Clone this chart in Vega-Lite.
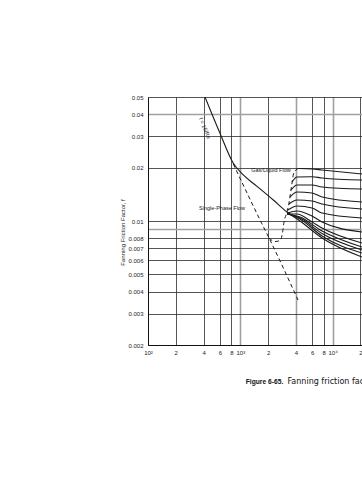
{
  "$schema": "https://vega.github.io/schema/vega-lite/v6.json",
  "width": 214,
  "height": 248,
  "autosize": {"type": "none"},
  "padding": {"left": 148, "top": 97, "right": 0, "bottom": 135},
  "background": "white",
  "config": {
    "view": {"stroke": null},
    "font": "Liberation Sans Narrow, Liberation Sans, sans-serif"
  },
  "title": {
    "text": "Figure 6-65.",
    "orient": "bottom",
    "anchor": "start",
    "frame": "group",
    "font": "Liberation Sans, sans-serif",
    "fontWeight": "bold",
    "fontSize": 6.7,
    "color": "#111",
    "dx": 97.7,
    "offset": -6
  },
  "datasets": {
    "curves": [
      {"series": "Single-phase", "Re": 414.5, "f": 0.05},
      {"series": "Single-phase", "Re": 602.7, "f": 0.03122},
      {"series": "Single-phase", "Re": 840, "f": 0.02115},
      {"series": "Single-phase", "Re": 1078, "f": 0.01817},
      {"series": "Single-phase", "Re": 1505, "f": 0.01574},
      {"series": "Single-phase", "Re": 2278, "f": 0.01313},
      {"series": "Single-phase", "Re": 3182, "f": 0.01128},
      {"series": "Single-phase", "Re": 4436, "f": 0.0100},
      {"series": "Single-phase", "Re": 7679, "f": 0.00802},
      {"series": "Single-phase", "Re": 20820, "f": 0.00627},

      {"series": "16/Re extension", "Re": 840, "f": 0.02095},
      {"series": "16/Re extension", "Re": 1705, "f": 0.009705},
      {"series": "16/Re extension", "Re": 2098, "f": 0.007815},
      {"series": "16/Re extension", "Re": 4219, "f": 0.003587},

      {"series": "Transition", "Re": 2046, "f": 0.00802},
      {"series": "Transition", "Re": 2376, "f": 0.00766},
      {"series": "Transition", "Re": 2692, "f": 0.00776},
      {"series": "Transition", "Re": 2865, "f": 0.00856},
      {"series": "Transition", "Re": 2975, "f": 0.00987},
      {"series": "Transition", "Re": 3182, "f": 0.01109},
      {"series": "Transition", "Re": 3370, "f": 0.01263},
      {"series": "Transition", "Re": 3498, "f": 0.01438},
      {"series": "Transition", "Re": 3632, "f": 0.01637},
      {"series": "Transition", "Re": 3771, "f": 0.01841},
      {"series": "Transition", "Re": 4013, "f": 0.01939},
      {"series": "Transition", "Re": 4272, "f": 0.01977},

      {"series": "Gas/liquid 1", "Re": 4272, "f": 0.01977},
      {"series": "Gas/liquid 1", "Re": 5983, "f": 0.01964},
      {"series": "Gas/liquid 1", "Re": 7679, "f": 0.01939},
      {"series": "Gas/liquid 1", "Re": 20820, "f": 0.01841},

      {"series": "Gas/liquid 2", "Re": 3632, "f": 0.01659},
      {"series": "Gas/liquid 2", "Re": 4115, "f": 0.01770},
      {"series": "Gas/liquid 2", "Re": 5983, "f": 0.01777},
      {"series": "Gas/liquid 2", "Re": 7679, "f": 0.01747},
      {"series": "Gas/liquid 2", "Re": 20820, "f": 0.01702},

      {"series": "Gas/liquid 3", "Re": 3542, "f": 0.01495},
      {"series": "Gas/liquid 3", "Re": 4115, "f": 0.01595},
      {"series": "Gas/liquid 3", "Re": 5983, "f": 0.01595},
      {"series": "Gas/liquid 3", "Re": 7679, "f": 0.01554},
      {"series": "Gas/liquid 3", "Re": 20820, "f": 0.01514},

      {"series": "Gas/liquid 4", "Re": 3455, "f": 0.01365},
      {"series": "Gas/liquid 4", "Re": 4115, "f": 0.01457},
      {"series": "Gas/liquid 4", "Re": 5983, "f": 0.01438},
      {"series": "Gas/liquid 4", "Re": 7679, "f": 0.01365},
      {"series": "Gas/liquid 4", "Re": 20820, "f": 0.01280},

      {"series": "Gas/liquid 5", "Re": 3370, "f": 0.01247},
      {"series": "Gas/liquid 5", "Re": 4115, "f": 0.01313},
      {"series": "Gas/liquid 5", "Re": 5983, "f": 0.01296},
      {"series": "Gas/liquid 5", "Re": 7679, "f": 0.01247},
      {"series": "Gas/liquid 5", "Re": 20820, "f": 0.01168},

      {"series": "Gas/liquid 6", "Re": 3287, "f": 0.01153},
      {"series": "Gas/liquid 6", "Re": 4115, "f": 0.01215},
      {"series": "Gas/liquid 6", "Re": 5983, "f": 0.01184},
      {"series": "Gas/liquid 6", "Re": 7679, "f": 0.01109},
      {"series": "Gas/liquid 6", "Re": 20820, "f": 0.01040},

      {"series": "Gas/liquid 7", "Re": 3206, "f": 0.01109},
      {"series": "Gas/liquid 7", "Re": 4115, "f": 0.01139},
      {"series": "Gas/liquid 7", "Re": 5983, "f": 0.01067},
      {"series": "Gas/liquid 7", "Re": 7679, "f": 0.00987},
      {"series": "Gas/liquid 7", "Re": 20820, "f": 0.00867},

      {"series": "Gas/liquid 8", "Re": 3206, "f": 0.01095},
      {"series": "Gas/liquid 8", "Re": 4115, "f": 0.01095},
      {"series": "Gas/liquid 8", "Re": 5983, "f": 0.00987},
      {"series": "Gas/liquid 8", "Re": 7679, "f": 0.00913},
      {"series": "Gas/liquid 8", "Re": 20820, "f": 0.00752},

      {"series": "Gas/liquid 9", "Re": 3206, "f": 0.01095},
      {"series": "Gas/liquid 9", "Re": 4436, "f": 0.01053},
      {"series": "Gas/liquid 9", "Re": 7679, "f": 0.00878},
      {"series": "Gas/liquid 9", "Re": 20820, "f": 0.00713},

      {"series": "Gas/liquid 10", "Re": 3206, "f": 0.01095},
      {"series": "Gas/liquid 10", "Re": 4436, "f": 0.01040},
      {"series": "Gas/liquid 10", "Re": 7679, "f": 0.00850},
      {"series": "Gas/liquid 10", "Re": 20820, "f": 0.00686},

      {"series": "Gas/liquid 11", "Re": 3206, "f": 0.01109},
      {"series": "Gas/liquid 11", "Re": 4436, "f": 0.01026},
      {"series": "Gas/liquid 11", "Re": 7679, "f": 0.00823},
      {"series": "Gas/liquid 11", "Re": 20820, "f": 0.00660}
    ],
    "labels": [
      {"label": "Gas/Liquid Flow", "Re": 2150, "f": 0.0194},
      {"label": "Single-Phase Flow", "Re": 633, "f": 0.01184}
    ],
    "rotated": [
      {"label": "f = 16/Re", "Re": 414.6, "f": 0.0334}
    ]
  },
  "layer": [
    {
      "data": {"name": "curves"},
      "transform": [{"filter": "datum.series != '16/Re extension' && datum.series != 'Transition'"}],
      "mark": {"type": "line", "interpolate": "monotone", "stroke": "#1a1a1a", "strokeWidth": 1.1, "clip": true},
      "encoding": {
        "x": {
          "field": "Re", "type": "quantitative",
          "scale": {"type": "log", "domain": [100, 20820], "nice": false},
          "axis": {
            "values": [100, 200, 400, 600, 800, 1000, 2000, 4000, 6000, 8000, 10000, 20000],
            "labelExpr": "datum.value==100?'10²':datum.value==1000?'10³':datum.value==10000?'10⁴':slice(toString(datum.value),0,1)",
            "ticks": false,
            "grid": true,
            "gridColor": {"condition": {"test": "datum.value==1000||datum.value==4000||datum.value==10000", "value": "#a0a0a0"}, "value": "#2a2a2a"},
            "gridWidth": {"condition": {"test": "datum.value==1000||datum.value==4000||datum.value==10000", "value": 1.6}, "value": 0.8},
            "domainColor": "#111",
            "domainWidth": 1,
            "labelFontSize": 6,
            "labelPadding": 4,
            "labelColor": "#222",
            "labelFlush": false,
            "labelOverlap": false,
            "title": "Fanning friction factor for gas/liquid flow",
            "titleFont": "DejaVu Sans, sans-serif",
            "titleFontSize": 8,
            "titleFontWeight": "normal",
            "titleColor": "#111",
            "titleAnchor": "start",
            "titleAlign": "left",
            "titleBaseline": "alphabetic",
            "titleX": 139,
            "titleY": 38
          }
        },
        "y": {
          "field": "f", "type": "quantitative",
          "scale": {"type": "log", "domain": [0.002, 0.05], "nice": false},
          "axis": {
            "values": [0.002, 0.003, 0.004, 0.005, 0.006, 0.007, 0.008, 0.009, 0.01, 0.02, 0.03, 0.04, 0.05],
            "labelExpr": "datum.value==0.009?'':format(datum.value,'~g')",
            "ticks": false,
            "grid": true,
            "gridColor": {"condition": {"test": "datum.value==0.04||datum.value==0.009", "value": "#a0a0a0"}, "value": "#2a2a2a"},
            "gridWidth": {"condition": {"test": "datum.value==0.04||datum.value==0.009", "value": 1.4}, "value": 0.8},
            "domainColor": "#111",
            "domainWidth": 1,
            "labelFontSize": 6,
            "labelPadding": 5,
            "labelColor": "#222",
            "labelFlush": false,
            "labelOverlap": false,
            "title": "Fanning Friction Factor, f",
            "titleFontSize": 6,
            "titleFontWeight": "normal",
            "titleColor": "#222",
            "titleBaseline": "middle",
            "titleX": -26,
            "titleY": 135
          }
        },
        "detail": {"field": "series", "type": "nominal"}
      }
    },
    {
      "data": {"name": "curves"},
      "transform": [{"filter": "datum.series == '16/Re extension' || datum.series == 'Transition'"}],
      "mark": {"type": "line", "interpolate": "monotone", "stroke": "#1a1a1a", "strokeWidth": 1, "strokeDash": [4, 3], "clip": true},
      "encoding": {
        "x": {"field": "Re", "type": "quantitative"},
        "y": {"field": "f", "type": "quantitative"},
        "detail": {"field": "series", "type": "nominal"}
      }
    },
    {
      "data": {"name": "labels"},
      "mark": {"type": "text", "fontSize": 5.5, "color": "#1a1a1a", "align": "center", "baseline": "middle"},
      "encoding": {
        "x": {"field": "Re", "type": "quantitative"},
        "y": {"field": "f", "type": "quantitative"},
        "text": {"field": "label"}
      }
    },
    {
      "data": {"name": "rotated"},
      "mark": {"type": "text", "fontSize": 5.5, "color": "#1a1a1a", "align": "center", "baseline": "middle", "angle": 68},
      "encoding": {
        "x": {"field": "Re", "type": "quantitative"},
        "y": {"field": "f", "type": "quantitative"},
        "text": {"field": "label"}
      }
    }
  ]
}
